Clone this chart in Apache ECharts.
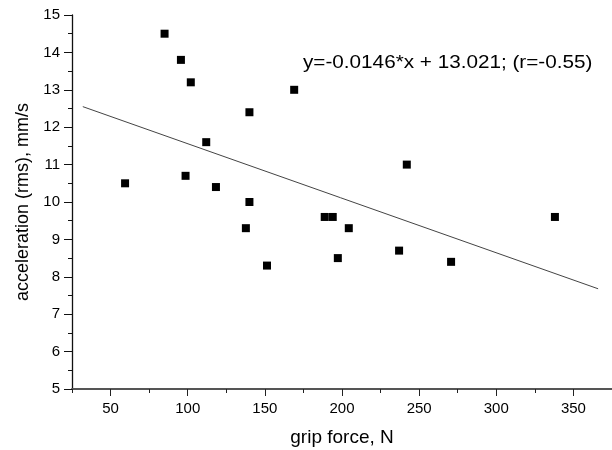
<!DOCTYPE html>
<html>
<head>
<meta charset="utf-8">
<script src="https://cdn.jsdelivr.net/npm/echarts@6/dist/echarts.min.js"></script>
<style>html,body{margin:0;padding:0;background:#fff}#c{width:612px;height:450px}</style>
</head>
<body>
<div id="c"></div>
<script>
const gripForce = [85, 95.6, 102, 169, 140, 112, 59.4, 98.6, 118.3, 140, 242, 137.7, 151.4, 188.8, 194, 204.4, 197.3, 237, 270.7, 338];
const acceleration = [14.5, 13.8, 13.2, 13.0, 12.4, 11.6, 10.5, 10.7, 10.4, 10.0, 11.0, 9.3, 8.3, 9.6, 9.6, 9.3, 8.5, 8.7, 8.4, 9.6];
const fitX = [32, 366];
const fitY = [12.55, 7.68];
const xMajorTicks = [50, 100, 150, 200, 250, 300, 350];
const xMinorTicks = [25, 75, 125, 175, 225, 275, 325, 375];
const equationText = 'y=-0.0146*x + 13.021; (r=-0.55)';
const xTitle = 'grip force, N';
const yTitle = 'acceleration (rms), mm/s';

const FONT = 'Liberation Sans, Arial, Helvetica, sans-serif';
const chart = echarts.init(document.getElementById('c'), null, {renderer: 'canvas'});
chart.setOption({
  animation: false,
  backgroundColor: '#fff',
  grid: {left: 72, right: 0, top: 15, bottom: 61, containLabel: false, outerBoundsMode: 'none'},
  xAxis: [{
    type: 'value', min: 25, max: 375,
    name: xTitle, nameLocation: 'middle', nameGap: 39,
    nameTextStyle: {fontFamily: FONT, fontSize: 19, color: '#000'},
    axisLine: {show: true, lineStyle: {color: '#555', width: 2}},
    axisTick: {show: true, customValues: xMajorTicks, length: 7, lineStyle: {color: '#222', width: 1}},
    axisLabel: {customValues: xMajorTicks, fontFamily: FONT, fontSize: 15, color: '#000', margin: 12},
    splitLine: {show: false}
  }, {
    type: 'value', min: 25, max: 375, position: 'bottom',
    axisLine: {show: false},
    axisTick: {show: true, customValues: xMinorTicks, length: 4, lineStyle: {color: '#222', width: 1}},
    axisLabel: {show: false},
    splitLine: {show: false}
  }],
  yAxis: {
    type: 'value', min: 5, max: 15, interval: 1,
    name: yTitle, nameLocation: 'middle', nameGap: 32, nameRotate: 90,
    nameTextStyle: {fontFamily: FONT, fontSize: 18, color: '#000'},
    axisLine: {show: true, lineStyle: {color: '#111', width: 1.3}},
    axisTick: {show: true, length: 8, lineStyle: {color: '#111', width: 1}},
    minorTick: {show: true, splitNumber: 2, length: 4, lineStyle: {color: '#111', width: 1}},
    axisLabel: {fontFamily: FONT, fontSize: 15, color: '#000', margin: 12},
    splitLine: {show: false}
  },
  graphic: [{
    type: 'text', left: 303, top: 54,
    scaleX: 1.15,
    style: {text: equationText, font: '18px ' + FONT, fill: '#000'}
  }],
  series: [{
    type: 'line', xAxisIndex: 0,
    data: fitX.map((x, i) => [x, fitY[i]]),
    showSymbol: false, symbol: 'none',
    lineStyle: {color: '#444', width: 1},
    z: 1
  }, {
    type: 'scatter', xAxisIndex: 0,
    data: gripForce.map((x, i) => [x, acceleration[i]]),
    symbol: 'rect', symbolSize: 8,
    itemStyle: {color: '#000', opacity: 1},
    z: 2
  }]
});
</script>
</body>
</html>
